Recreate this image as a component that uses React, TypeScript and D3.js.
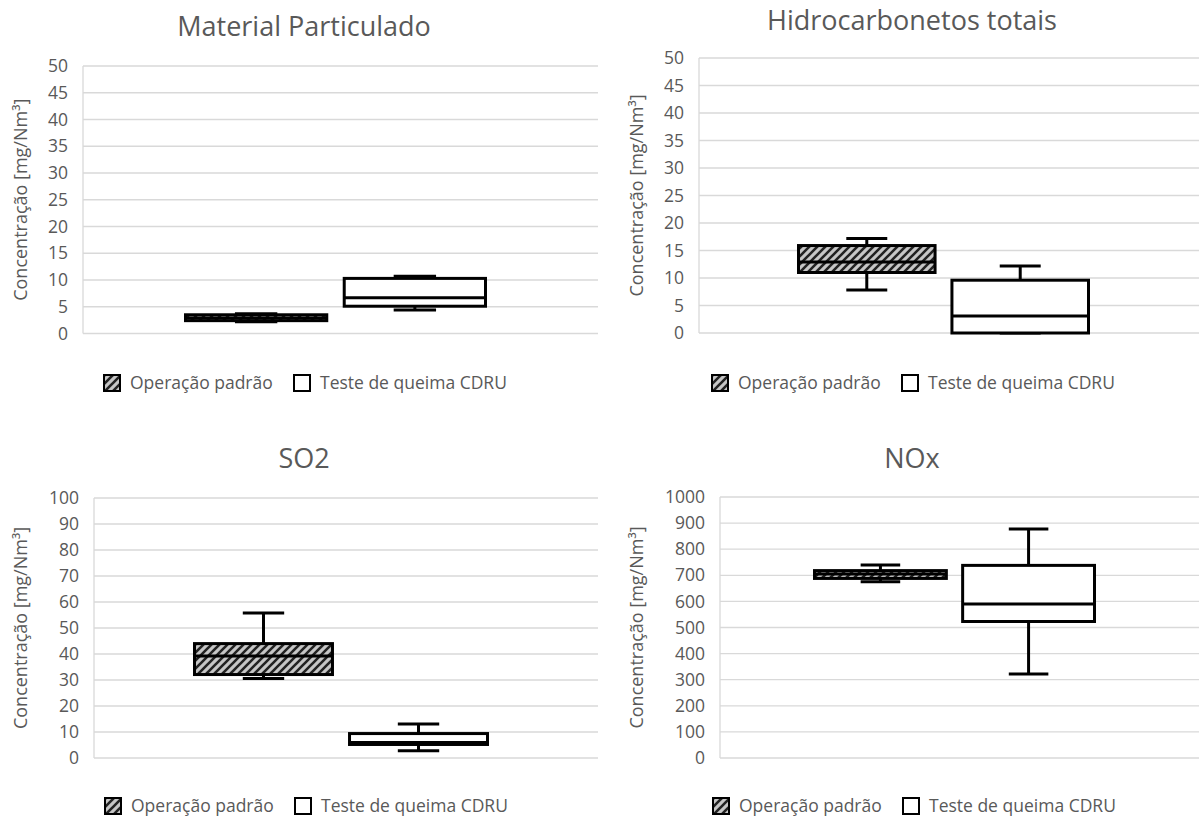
import React from 'react';
import * as d3 from 'd3';

// Series shown in every panel
const seriesNames = ['Operação padrão', 'Teste de queima CDRU'];
const axisTitle = 'Concentração [mg/Nm³]';

// Five-number summaries per series: [min, q1, median, q3, max]
const particuladoPadrao = [2.2, 2.4, 2.9, 3.5, 3.7];
const particuladoTeste = [4.4, 5.1, 6.7, 10.3, 10.7];
const hidrocarbonetosPadrao = [7.8, 11.0, 12.9, 15.9, 17.2];
const hidrocarbonetosTeste = [0, 0, 3.1, 9.6, 12.2];
const so2Padrao = [30.6, 32.1, 39.2, 44.0, 55.8];
const so2Teste = [2.8, 5.2, 6.0, 9.4, 13.1];
const noxPadrao = [675, 688, 705, 718, 739];
const noxTeste = [322, 523, 590, 738, 877];

// Tick values of each y axis
const ticks50 = [0, 5, 10, 15, 20, 25, 30, 35, 40, 45, 50];
const ticks100 = [0, 10, 20, 30, 40, 50, 60, 70, 80, 90, 100];
const ticks1000 = [0, 100, 200, 300, 400, 500, 600, 700, 800, 900, 1000];

const panelTitles = ['Material Particulado', 'Hidrocarbonetos totais', 'SO2', 'NOx'];

const FONT = '"Open Sans", "Noto Sans", sans-serif';
const TEXT = '#595959';
const GRID = '#d9d9d9';
const HATCH_BG = '#c6c6c6';

type Layout = {
  left: number; right: number; top: number; bottom: number;
  boxLeft: number; boxRight: number;
  titleX: number; titleY: number;
  axisTitleX: number;
  legendX: number; legendY: number;
};

const panels = [
  {
    title: panelTitles[0], ticks: ticks50, data: [particuladoPadrao, particuladoTeste],
    layout: { left: 83, right: 598, top: 66, bottom: 333.5, boxLeft: 185.5, boxRight: 485.5, titleX: 304, titleY: 36, axisTitleX: 21, legendX: 103, legendY: 383 } as Layout,
  },
  {
    title: panelTitles[1], ticks: ticks50, data: [hidrocarbonetosPadrao, hidrocarbonetosTeste],
    layout: { left: 699, right: 1199, top: 58, bottom: 333, boxLeft: 798.5, boxRight: 1088.5, titleX: 912, titleY: 30, axisTitleX: 637, legendX: 711, legendY: 383 } as Layout,
  },
  {
    title: panelTitles[2], ticks: ticks100, data: [so2Padrao, so2Teste],
    layout: { left: 94, right: 598, top: 498, bottom: 758, boxLeft: 194.5, boxRight: 487.5, titleX: 304, titleY: 468, axisTitleX: 21, legendX: 104, legendY: 806 } as Layout,
  },
  {
    title: panelTitles[3], ticks: ticks1000, data: [noxPadrao, noxTeste],
    layout: { left: 720, right: 1199, top: 497, bottom: 758, boxLeft: 814.5, boxRight: 1094.5, titleX: 912, titleY: 468, axisTitleX: 637, legendX: 712, legendY: 806 } as Layout,
  },
];

const fills = ['url(#hatch)', '#ffffff'];

function BoxPanel({ title, ticks, data, layout }: { title: string; ticks: number[]; data: number[][]; layout: Layout }) {
  const L = layout;
  const y = d3.scaleLinear().domain([0, d3.max(ticks) as number]).range([L.bottom, L.top]);
  const x = d3.scaleBand<string>().domain(seriesNames).range([L.boxLeft, L.boxRight]).paddingInner(0.11).paddingOuter(0);
  const bw = x.bandwidth();
  const capW = bw * 0.3;
  const midY = (L.top + L.bottom) / 2;

  return (
    <g>
      <text x={L.titleX} y={L.titleY} textAnchor="middle" fontFamily={FONT} fontSize={27} fill={TEXT}>{title}</text>
      {ticks.map((t) => (
        <g key={t}>
          <line x1={L.left} x2={L.right} y1={y(t)} y2={y(t)} stroke={GRID} strokeWidth={1.3} />
          <text x={L.left - 15} y={y(t)} dy="0.35em" textAnchor="end" fontFamily={FONT} fontSize={17.5} fill={TEXT}>{t}</text>
        </g>
      ))}
      <line x1={L.left} x2={L.left} y1={L.top} y2={L.bottom} stroke={GRID} strokeWidth={1.3} />
      <text transform={`translate(${L.axisTitleX},${midY}) rotate(-90)`} textAnchor="middle" dy="0.35em" fontFamily={FONT} fontSize={18} fill={TEXT}>{axisTitle}</text>

      {data.map((s, i) => {
        const [mn, q1, med, q3, mx] = s;
        const x0 = x(seriesNames[i]) as number;
        const cx = x0 + bw / 2;
        return (
          <g key={i} stroke="#000" strokeWidth={3}>
            <line x1={cx} x2={cx} y1={y(mx)} y2={y(q3)} />
            <line x1={cx} x2={cx} y1={y(q1)} y2={y(mn)} />
            <line x1={cx - capW / 2} x2={cx + capW / 2} y1={y(mx)} y2={y(mx)} />
            <line x1={cx - capW / 2} x2={cx + capW / 2} y1={y(mn)} y2={y(mn)} />
            <rect x={x0} y={y(q3)} width={bw} height={Math.max(0, y(q1) - y(q3))} fill={fills[i]} />
            <line x1={x0} x2={x0 + bw} y1={y(med)} y2={y(med)} />
          </g>
        );
      })}

      {seriesNames.map((name, i) => {
        const lx = L.legendX + i * 190;
        return (
          <g key={name}>
            <rect x={lx + 1} y={L.legendY - 8} width={16} height={16} fill={fills[i]} stroke="#000" strokeWidth={2} />
            <text x={lx + 27} y={L.legendY} dy="0.35em" fontFamily={FONT} fontSize={17.5} fill={TEXT}>{name}</text>
          </g>
        );
      })}
    </g>
  );
}

export default function App() {
  return (
    <svg width={1199} height={820} style={{ position: 'absolute', left: 0, top: 0, background: '#fff' }}>
      <defs>
        <pattern id="hatch" patternUnits="userSpaceOnUse" width={8} height={8}>
          <rect width={8} height={8} fill={HATCH_BG} />
          <path d="M-2,2 l4,-4 M0,8 l8,-8 M6,10 l4,-4" stroke="#222" strokeWidth={2.6} />
        </pattern>
      </defs>
      <rect width={1199} height={820} fill="#fff" />
      {panels.map((p) => (
        <BoxPanel key={p.title} title={p.title} ticks={p.ticks} data={p.data} layout={p.layout} />
      ))}
    </svg>
  );
}
